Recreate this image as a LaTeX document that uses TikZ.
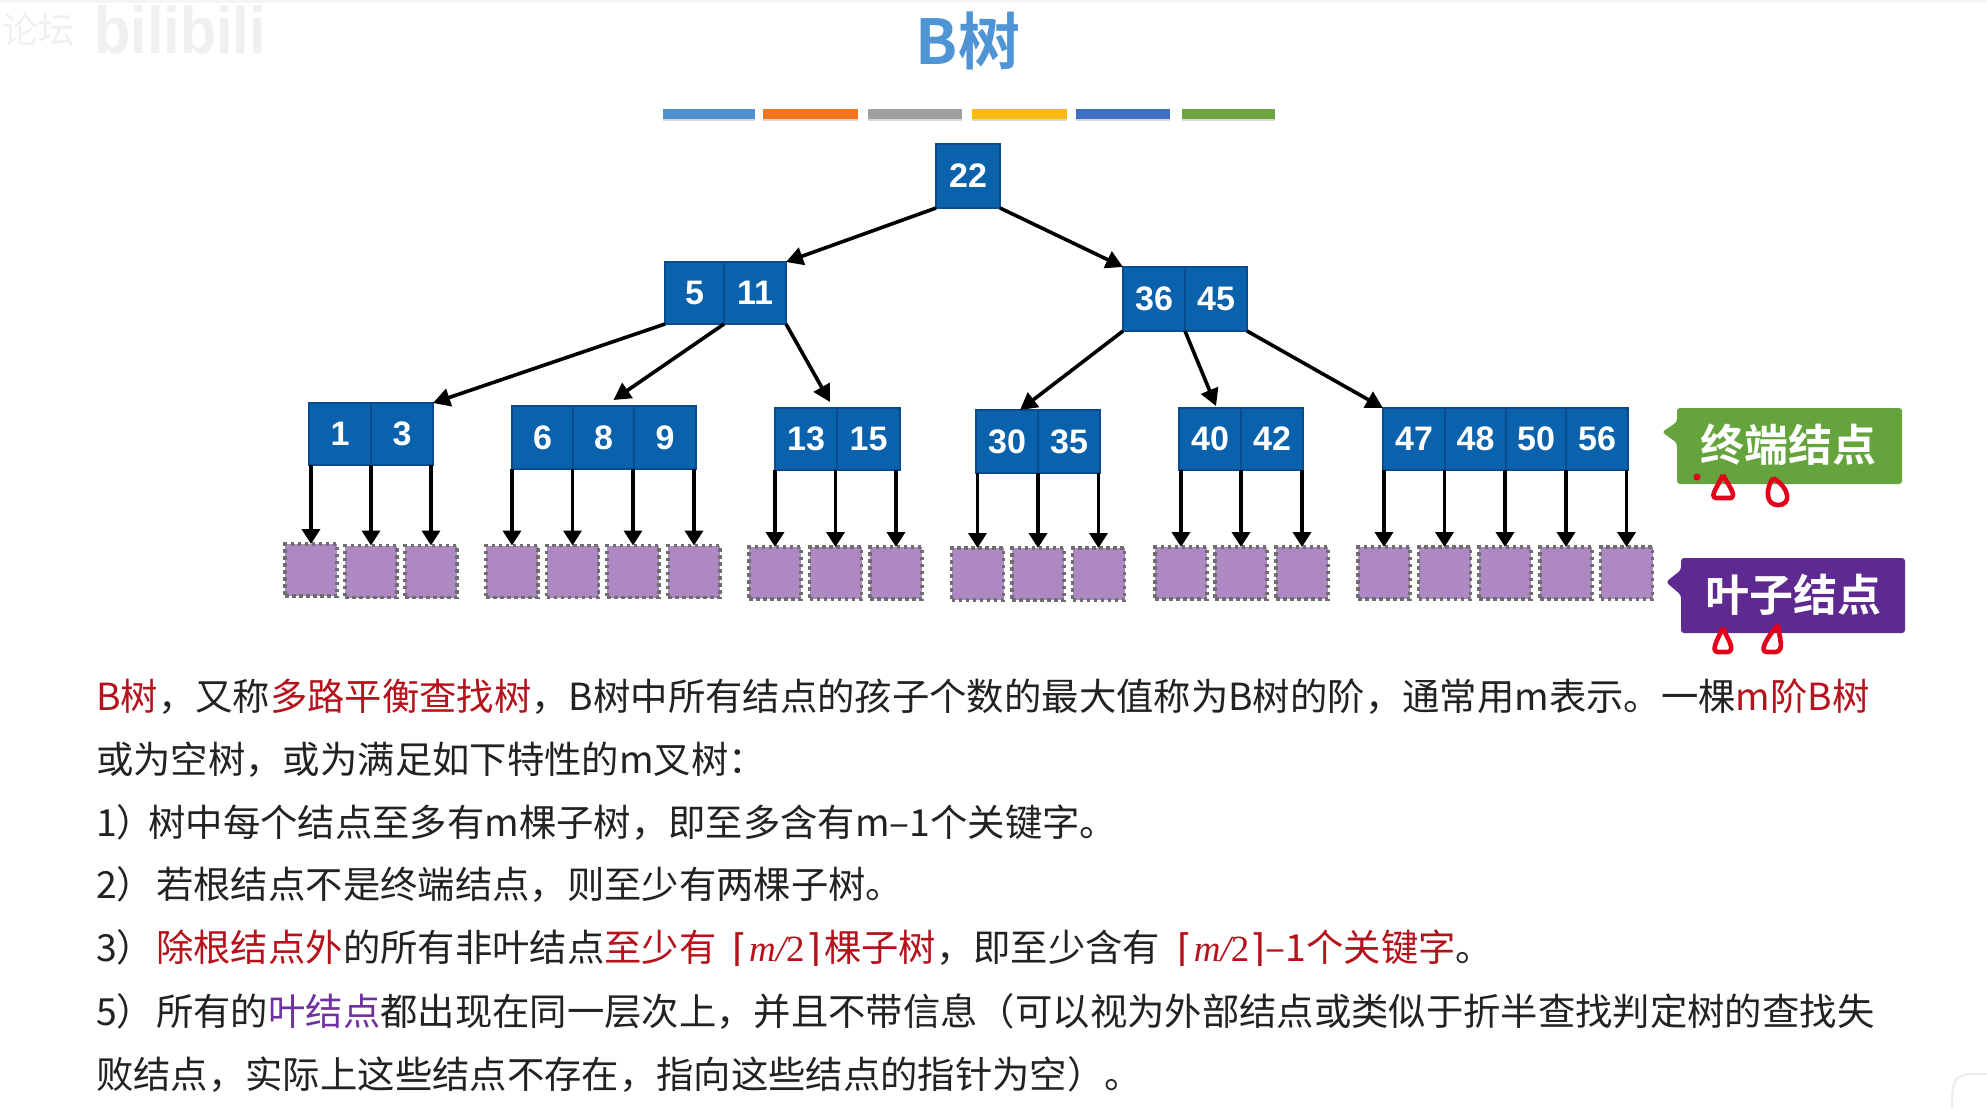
\documentclass[tikz,border=0pt]{standalone}
\usepackage{fontspec}
\usetikzlibrary{arrows.meta,shadows}
\setmainfont{Liberation Sans}
\newfontfamily\cjk{Noto Sans CJK SC}
\newfontfamily\cjkbold{Noto Sans CJK SC Bold}
\newfontfamily\sym{DejaVu Sans}
\newfontfamily\serif{Liberation Serif}
\definecolor{cellblue}{HTML}{0B62AC}
\definecolor{celledge}{HTML}{0A4B8F}
\definecolor{leaffill}{HTML}{AE88C3}
\definecolor{leafedge}{HTML}{6E6E6E}
\definecolor{txtred}{HTML}{B5121B}
\definecolor{txtpurple}{HTML}{7030A0}
\definecolor{txt}{HTML}{222222}
\definecolor{inkred}{HTML}{E2001A}
\definecolor{wm}{HTML}{F0F0F0}
\definecolor{titleblue}{HTML}{4F94D4}
\definecolor{barA}{HTML}{4E90CF}
\definecolor{barB}{HTML}{F4751C}
\definecolor{barC}{HTML}{A0A0A0}
\definecolor{barD}{HTML}{FDB813}
\definecolor{barE}{HTML}{3F6FC4}
\definecolor{barF}{HTML}{6AA540}
\definecolor{taggreen}{HTML}{65A43C}
\definecolor{tagpurple}{HTML}{5E2A91}
\newcommand{\rd}[1]{\textcolor{txtred}{#1}}
\newcommand{\pu}[1]{\textcolor{txtpurple}{#1}}
\newcommand{\ceilm}{{\sym\fontsize{38}{38}\selectfont ⌈}\hspace{1.5pt}{\serif\fontsize{37}{38}\selectfont\itshape m/}{\serif\fontsize{37}{38}\selectfont 2}\hspace{1.5pt}{\sym\fontsize{38}{38}\selectfont ⌉}}
\tikzset{
  cell/.style={rectangle,draw=celledge,line width=1.6pt,fill=cellblue,inner sep=0pt,outer sep=0pt,
    text=white,font=\fontsize{34}{36}\selectfont\bfseries},
  leaf/.style={rectangle,fill=leaffill,draw=leafedge,line width=3.4pt,dash pattern=on 3.5pt off 3.5pt,
    minimum width=52pt,minimum height=52pt,inner sep=0pt,outer sep=0pt},
  link/.style={draw=black,line width=3.6pt,-{Triangle[length=17pt,width=18pt]}},
  barbox/.style={rectangle,inner sep=0pt,minimum height=10pt,drop shadow={opacity=.3,shadow xshift=0pt,shadow yshift=-2pt}},
  para/.style={anchor=base west,inner sep=0pt,text=txt,font=\cjk\fontsize{37.35}{40}\selectfont},
  tagtext/.style={text=white,inner sep=0pt,font=\cjkbold\fontsize{44}{48}\selectfont},
  ink/.style={draw=inkred,line width=4.6pt,line join=round},
  wmark/.style={inner sep=0pt,text=wm}
}
% cell: name, left, right, top, bottom, label
\newcommand{\cellnode}[6]{\node[cell,minimum width={#3-#2},minimum height={#5-#4}] (#1) at ({(#2+#3)/2},{(#4+#5)/2}) {\raisebox{-2.5pt}{#6}};}
\begin{document}
\begin{tikzpicture}[x=1pt,y=-1pt]
\useasboundingbox (0,0) rectangle (1987,1109);
\fill[white] (0,0) rectangle (1987,1109);
\fill[black!4] (0,0) rectangle (1987,3);
% watermark
\node[wmark,font=\cjk\fontsize{36}{40}\selectfont] (wm1) at (38,30) {论坛};
\node[wmark,font=\fontsize{66}{70}\selectfont\bfseries,xscale=.9] (wm2) at (180,30) {bilibili};
\draw[black!7,line width=2pt,rounded corners=10pt] (1987,1074) -- (1960,1074) -- (1952,1085) -- (1952,1109);
% title
\node[inner sep=0pt,text=titleblue,font=\cjkbold\fontsize{62}{66}\selectfont] (title) at (968,41) {B树};
% colour bars
\node[barbox,fill=barA,minimum width=92pt] (b1) at (709,113.5) {};
\node[barbox,fill=barB,minimum width=95pt] (b2) at (810.5,113.5) {};
\node[barbox,fill=barC,minimum width=94pt] (b3) at (915,113.5) {};
\node[barbox,fill=barD,minimum width=95pt] (b4) at (1019.5,113.5) {};
\node[barbox,fill=barE,minimum width=94pt] (b5) at (1123,113.5) {};
\node[barbox,fill=barF,minimum width=93pt] (b6) at (1228.5,113.5) {};
% tree cells
\cellnode{r}{936}{1000}{144}{208}{\raisebox{1.5pt}{22}}
\cellnode{a5}{665}{724}{262}{324}{5}
\cellnode{a11}{724}{786}{262}{324}{11}
\cellnode{a36}{1123}{1185}{267}{331}{\raisebox{1pt}{36}}
\cellnode{a45}{1185}{1247}{267}{331}{\raisebox{1pt}{45}}
\cellnode{c1}{309}{371}{403}{465}{\raisebox{-1.5pt}{1}}
\cellnode{c3}{371}{433}{403}{465}{\raisebox{-1.5pt}{3}}
\cellnode{c6}{512}{573}{406}{469}{6}
\cellnode{c8}{573}{634}{406}{469}{8}
\cellnode{c9}{634}{696}{406}{469}{9}
\cellnode{c13}{775}{837}{408}{470}{13}
\cellnode{c15}{837}{900}{408}{470}{15}
\cellnode{c30}{976}{1038}{410}{473}{30}
\cellnode{c35}{1038}{1100}{410}{473}{35}
\cellnode{c40}{1179}{1241}{408}{470}{40}
\cellnode{c42}{1241}{1303}{408}{470}{42}
\cellnode{c47}{1383}{1445}{408}{470}{47}
\cellnode{c48}{1445}{1506}{408}{470}{48}
\cellnode{c50}{1506}{1566}{408}{470}{50}
\cellnode{c56}{1566}{1628}{408}{470}{56}
% leaves
\foreach \nm/\x/\y in {l1/311/570,l2/371/571.5,l3/431/571.5,
  l4/512/571.5,l5/572.5/571.5,l6/633/571.5,l7/694/571.5,
  l8/775/573,l9/835.5/573,l10/896/573,
  l11/977.5/574,l12/1038/574,l13/1098.5/574,
  l14/1181/573,l15/1241/573,l16/1302/573,
  l17/1384/573,l18/1444.5/573,l19/1505/573,l20/1566/573,l21/1626.5/573}
  {\node[leaf] (\nm) at (\x,\y) {};}
% upper links
\draw[link] (r.south west) -- (a11.north east);
\draw[link] (r.south east) -- (a36.north west);
\draw[link] (a5.south west) -- (c3.north east);
\draw[link] (a5.south east) -- ([xshift=10pt,yshift=6pt]c8.north);
\draw[link] (a11.south east) -- ([yshift=6pt,xshift=-7pt]c13.north east);
\draw[link] (a36.south west) -- ([xshift=13pt]c30.north);
\draw[link] (a36.south east) -- ([xshift=6pt,yshift=2pt]c40.north);
\draw[link] (a45.south east) -- (c47.north west);
% links to leaves
\foreach \cl/\lf in {c1/l1,c3/l2,c3/l3,c6/l4,c8/l5,c9/l6,c9/l7,c13/l8,c15/l9,c15/l10,
  c30/l11,c35/l12,c35/l13,c40/l14,c42/l15,c42/l16,c47/l17,c48/l18,c50/l19,c56/l20,c56/l21}
  {\draw[link,-{Triangle[length=15pt,width=18pt]}] (\lf.north |- \cl.south) -- (\lf.north);}
% callouts
\fill[taggreen,rounded corners=3pt] (1677,408) -- (1902,408) -- (1902,484) -- (1677,484) -- (1677,443) -- (1662,432) -- (1677,422) -- cycle;
\node[tagtext] (t1) at (1788,445) {终端结点};
\fill[tagpurple,rounded corners=3pt] (1681,558) -- (1905,558) -- (1905,633) -- (1681,633) -- (1681,595) -- (1666,582) -- (1681,570) -- cycle;
\node[tagtext] (t2) at (1793,595) {叶子结点};
% red handwriting
\fill[inkred] (1697,477) circle (3.5);
\draw[ink] (1723,475) .. controls (1718,486) and (1709,497) .. (1716,498) -- (1731,498) .. controls (1737,495) and (1728,485) .. (1723,475);
\draw[ink] (1773,478) .. controls (1765,490) and (1766,505) .. (1778,505) .. controls (1792,505) and (1790,488) .. (1773,478);
\draw[ink] (1723,628) .. controls (1718,638) and (1710,652) .. (1718,652) -- (1728,652) .. controls (1736,650) and (1727,638) .. (1723,628);
\draw[ink] (1778,625) .. controls (1768,636) and (1758,652) .. (1767,652) -- (1776,652) .. controls (1785,650) and (1779,638) .. (1778,625);
% paragraph
\node[para] (p1) at (96,710) {\rd{B树}，又称\rd{多路平衡查找树}，B树中所有结点的孩子个数的最大值称为B树的阶，通常用m表示。一棵\rd{m阶B树}};
\node[para] (p2) at (96,773) {或为空树，或为满足如下特性的m叉树：};
\node[para] (p3) at (96,836) {1）\hspace{-6pt}树中每个结点至多有m棵子树，即至多含有m–1个关键字。};
\node[para] (p4) at (96,898) {2）\hspace{2pt}若根结点不是终端结点，则至少有两棵子树。};
\node[para] (p5) at (96,961.5) {3）\hspace{2pt}\rd{除根结点外}的所有非叶结点\rd{至少有\hspace{8pt} \ceilm{}\hspace{3pt}棵子树}，即至少含有\hspace{9pt} \rd{\ceilm{}–1个关键字}。};
\node[para] (p6) at (96,1025) {5）\hspace{2pt}所有的\pu{叶结点}都出现在同一层次上，并且不带信息（可以视为外部结点或类似于折半查找判定树的查找失};
\node[para] (p7) at (96,1088) {败结点，实际上这些结点不存在，指向这些结点的指针为空）。};
\end{tikzpicture}
\end{document}
